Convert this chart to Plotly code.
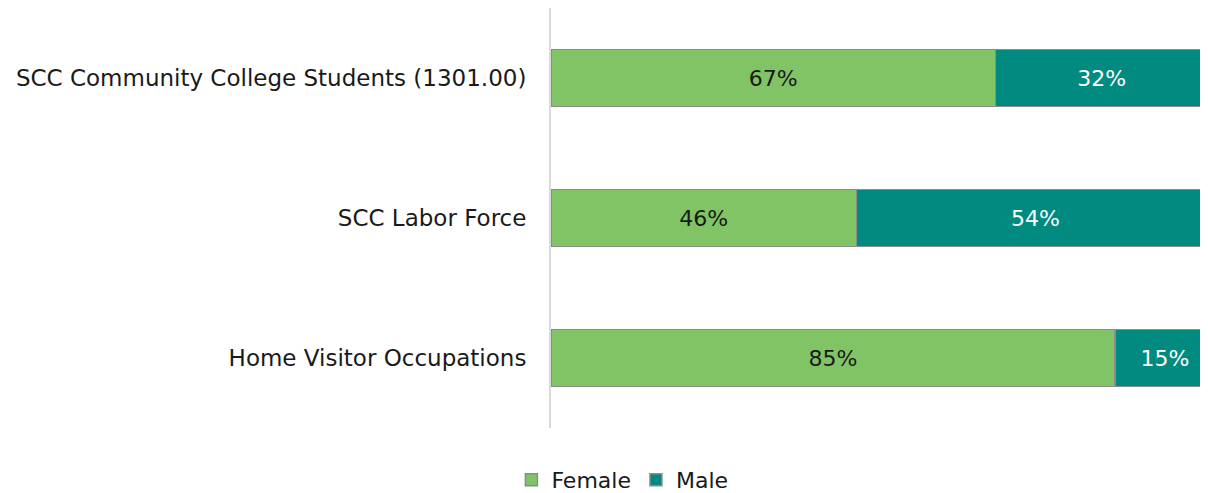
import plotly.graph_objects as go

categories = ["SCC Community College Students (1301.00)", "SCC Labor Force", "Home Visitor Occupations"]
female = [67, 46, 85]
male = [32, 54, 15]
series_names = ["Female", "Male"]

FONT = "DejaVu Sans"
c_female = "#80C465"
c_male = "#008A80"
outline = "#8C8C8C"

fig = go.Figure()
fig.add_trace(go.Bar(
    y=categories, x=female, name=series_names[0], orientation="h",
    marker=dict(color=c_female, line=dict(color=outline, width=1.5)),
    text=[f"{v}%" for v in female], textposition="inside", insidetextanchor="middle",
    textfont=dict(color="#1a1a1a", size=22, family=FONT),
))
fig.add_trace(go.Bar(
    y=categories, x=male, name=series_names[1], orientation="h",
    marker=dict(color=c_male, line=dict(color=outline, width=1.5)),
    text=[f"{v}%" for v in male], textposition="inside", insidetextanchor="middle",
    textfont=dict(color="white", size=22, family=FONT),
))

fig.update_layout(
    barmode="stack",
    bargap=0.59,
    width=1200, height=485,
    margin=dict(l=543, r=0, t=0, b=65),
    paper_bgcolor="white", plot_bgcolor="white",
    font=dict(family=FONT, size=23, color="#1a1a1a"),
    uniformtext=dict(mode=False),
    legend=dict(orientation="h", xref="container", yref="container",
                x=0.512, xanchor="center", y=0.027, yanchor="middle",
                font=dict(size=22, family=FONT, color="#1a1a1a"), traceorder="normal",
                itemwidth=30, tracegroupgap=0),
    showlegend=True,
)
fig.update_xaxes(range=[0, 99], showgrid=False, zeroline=False, showticklabels=False,
                 showline=False, fixedrange=True)
fig.update_yaxes(autorange="reversed", showgrid=False, zeroline=False,
                 showline=True, linecolor="#D9D9D9", linewidth=2,
                 ticks="", ticklabelstandoff=18,
                 tickfont=dict(size=23, family=FONT, color="#1a1a1a"))

fig.write_html("out.html")
